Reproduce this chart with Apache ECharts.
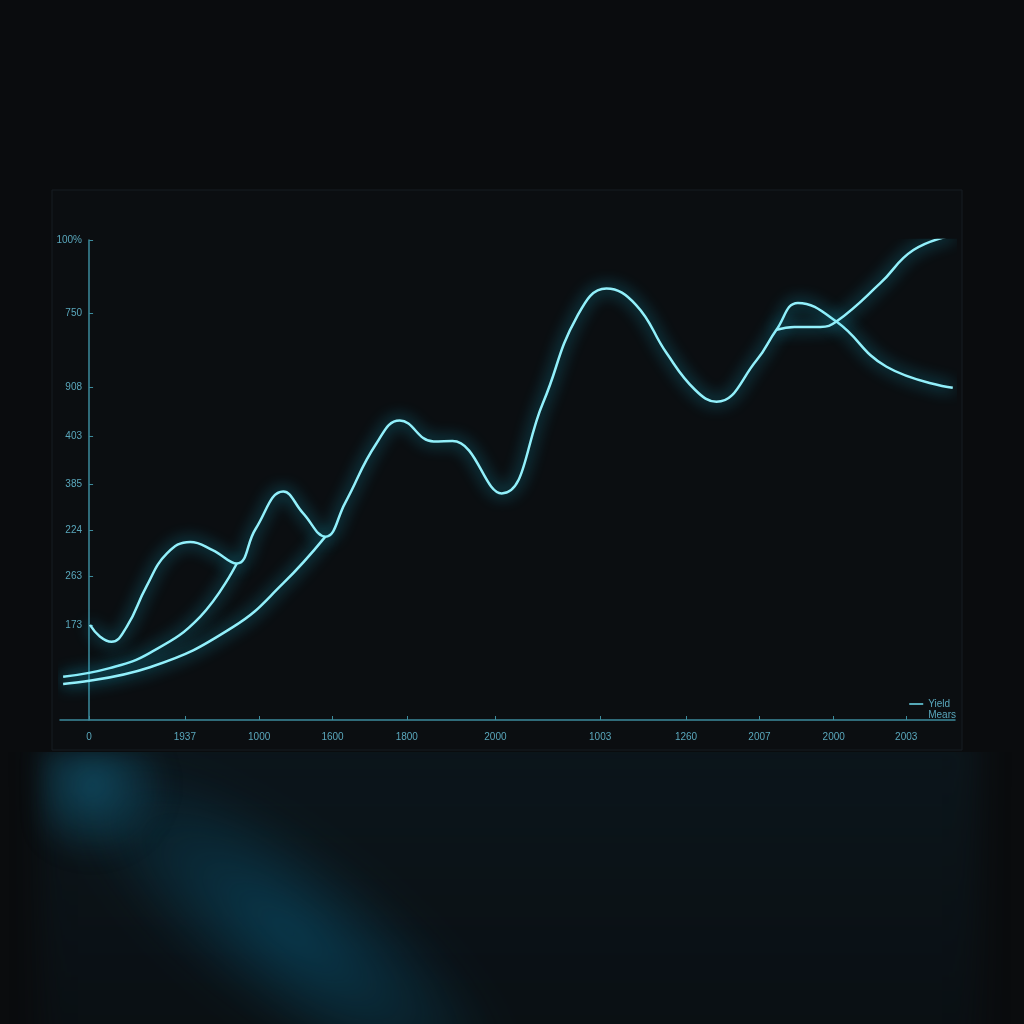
<!DOCTYPE html>
<html>
<head>
<meta charset="utf-8">
<title>Yield</title>
<script src="https://cdn.jsdelivr.net/npm/echarts@6/dist/echarts.min.js"></script>
<style>
  html, body { margin: 0; padding: 0; background: #0a0c0e; overflow: hidden; }
  #wrap { position: relative; width: 1024px; height: 1024px; }
  /* 底部反光，纯装饰 */
  #glow { position: absolute; left: 0; top: 752px; width: 1024px; height: 272px; overflow: hidden; }
  #glow .base {
    position: absolute; left: 40px; top: -20px; width: 940px; height: 320px;
    background: linear-gradient(180deg, rgba(14, 34, 44, 0.45), rgba(10, 22, 30, 0.3));
    filter: blur(14px);
  }
  #glow .band {
    position: absolute; left: 20px; top: 90px; width: 540px; height: 180px;
    background: radial-gradient(ellipse at center, rgba(8, 72, 98, 0.75), rgba(8, 72, 98, 0) 70%);
    transform: rotate(37deg);
    filter: blur(18px);
  }
  #glow .spot {
    position: absolute; left: 40px; top: 0px; width: 130px; height: 110px;
    background: radial-gradient(ellipse at 40% 30%, rgba(18, 100, 130, 0.6), rgba(18, 100, 130, 0) 70%);
    filter: blur(10px);
  }
  #main { position: absolute; left: 0; top: 0; width: 1024px; height: 1024px; }
</style>
</head>
<body>
<div id="wrap">
  <div id="glow"><div class="base"></div><div class="band"></div><div class="spot"></div></div>
  <div id="main"></div>
</div>
<script>
// 坐标轴刻度
var xTickValues = [0, 10.7, 19.0, 27.2, 35.5, 45.4, 57.1, 66.7, 74.9, 83.2, 91.3]
var xTickLabels = ['0', '1937', '1000', '1600', '1800', '2000', '1003', '1260', '2007', '2000', '2003']
var yTickValues = [19.8, 30, 39.6, 49.2, 59.2, 69.4, 84.8, 100]
var yTickLabels = ['173', '263', '224', '385', '403', '908', '750', '100%']

// 主曲线 (波浪)
var yieldData = [
  [0.1, 19.8], [1.2, 17.4], [2.5, 16.3], [4.2, 19.4], [6.4, 27.8],
  [8.7, 34.7], [11.3, 37.1], [13.8, 35.4], [16.5, 32.6], [18.6, 39.8],
  [21.7, 47.6], [23.9, 43.1], [26.4, 38.2], [28.6, 45.2], [32.1, 57.6],
  [34.7, 62.4], [38.5, 58.0], [40.6, 58.1], [46.1, 47.2], [50.7, 66.0],
  [54.5, 84.0], [57.8, 89.9], [61.1, 86.5], [64.5, 76.5], [67.7, 68.8],
  [70.1, 66.3], [74.6, 75.0], [76.8, 81.3], [79.2, 86.9], [83.5, 83.0],
  [89.1, 73.6], [96.5, 69.2]
]
// 下方两条平滑曲线 + 右侧分支
var curveB = [[-2.9, 9.0], [2.3, 10.8], [6.8, 14.0], [12.4, 21.5], [16.5, 32.6]]
var curveC = [[-2.9, 7.5], [6.8, 11.0], [16.1, 19.4], [21.7, 28.5], [26.4, 38.2]]
var branch = [[76.8, 81.3], [78.8, 81.9], [81.7, 81.9], [83.5, 83.0], [88.4, 91.0], [92.1, 97.9], [96.5, 101.0]]

var glowLine = {
  color: '#92f0fb',
  width: 2.5,
  shadowBlur: 16,
  shadowColor: 'rgba(24, 200, 235, 1)'
}

function makeLine (name, data) {
  return {
    name: name,
    type: 'line',
    data: data,
    smooth: 0.45,
    symbol: 'none',
    clip: false,
    lineStyle: glowLine,
    itemStyle: { color: '#6fdcef' },
    z: 3
  }
}

var myChart = echarts.init(document.getElementById('main'))

var option = {
  backgroundColor: 'transparent',
  graphic: [
    // 图表面板
    {
      type: 'rect',
      shape: { x: 52, y: 190, width: 910, height: 560 },
      style: { fill: '#0b0e11', stroke: '#161d22', lineWidth: 1 },
      z: -5
    }
  ],
  grid: { left: 60, right: 69, top: 240, bottom: 304 },
  legend: {
    orient: 'vertical',
    right: 63,
    top: 694,
    itemGap: 1,
    itemWidth: 14,
    itemHeight: 8,
    textStyle: { color: '#5aa8bd', fontSize: 10, fontFamily: 'Liberation Sans' },
    data: [
      { name: 'Yield', icon: 'path://M0,4L14,4L14,5.5L0,5.5Z' },
      { name: 'Mears', icon: 'none' }
    ]
  },
  xAxis: {
    type: 'value',
    min: -3.25,
    max: 96.75,
    splitLine: { show: false },
    axisLine: { lineStyle: { color: '#3d8b9c', width: 1.5 } },
    axisTick: { customValues: xTickValues, length: 4, inside: true, lineStyle: { color: '#3d8b9c' } },
    axisLabel: {
      customValues: xTickValues,
      margin: 12,
      color: '#5aa8bd',
      fontSize: 10,
      fontFamily: 'Liberation Sans',
      formatter: function (v) {
        var i = xTickValues.indexOf(v)
        return i >= 0 ? xTickLabels[i] : ''
      }
    }
  },
  yAxis: {
    type: 'value',
    min: 0,
    max: 100,
    splitLine: { show: false },
    axisLine: { show: true, onZero: true, lineStyle: { color: '#3d8b9c', width: 1.5 } },
    axisTick: { show: true, customValues: yTickValues, inside: true, length: 4, lineStyle: { color: '#3d8b9c' } },
    axisLabel: {
      customValues: yTickValues,
      margin: -22,
      color: '#5aa8bd',
      fontSize: 10,
      fontFamily: 'Liberation Sans',
      formatter: function (v) {
        var i = yTickValues.indexOf(v)
        return i >= 0 ? yTickLabels[i] : ''
      }
    }
  },
  series: [
    makeLine('Yield', yieldData),
    makeLine('Mears', curveB),
    makeLine('Mears', curveC),
    makeLine('Mears', branch)
  ]
}

myChart.setOption(option)
</script>
</body>
</html>
